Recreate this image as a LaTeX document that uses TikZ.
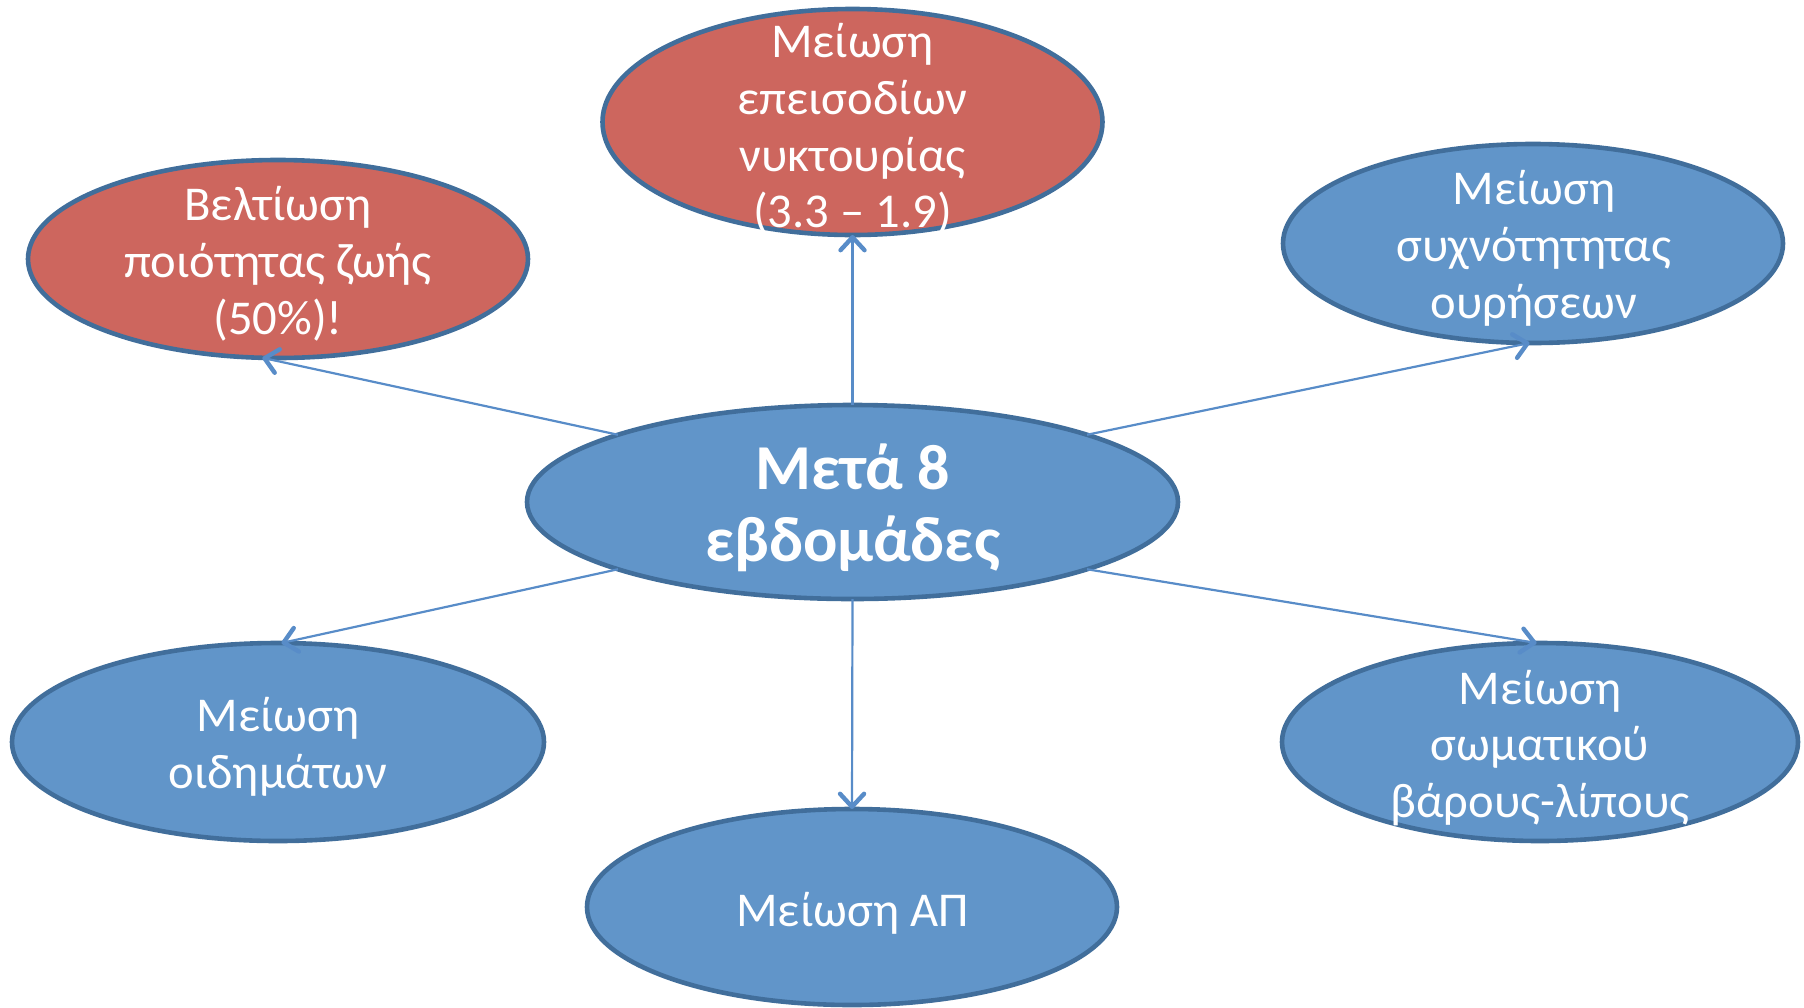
\documentclass[tikz,border=0pt]{standalone}
\usepackage{fontspec}
\setmainfont{Carlito}
\usetikzlibrary{shapes.geometric,arrows.meta}

\definecolor{bluefill}{RGB}{97,149,201}
\definecolor{redfill}{RGB}{205,102,94}
\definecolor{rim}{RGB}{65,110,155}
\definecolor{link}{RGB}{88,140,200}

\tikzset{
  blob/.style={ellipse, draw=rim, line width=2.3pt, inner sep=0pt, outer sep=0pt},
  bluebox/.style={blob, fill=bluefill},
  redbox/.style={blob, fill=redfill},
  txt/.style={text=white, align=center, inner sep=0pt,
    font=\fontsize{24.3pt}{28.4pt}\selectfont},
  hubtxt/.style={text=white, align=center, inner sep=0pt,
    font=\fontsize{32pt}{36pt}\selectfont\bfseries},
  link/.style={draw=link, line width=1.1pt,
    -{Straight Barb[length=6.5pt,width=12pt,line width=2.2pt,round]}}
}

\begin{document}
\begin{tikzpicture}[x=0.5pt,y=-0.5pt]
\useasboundingbox (0,0) rectangle (1804,1007);

% ellipses
\node[bluebox, minimum width=325.5pt, minimum height=97pt]  (hub) at (852.5,502) {};
\node[redbox,  minimum width=250pt,   minimum height=113pt] (noct) at (852.5,122) {};
\node[redbox,  minimum width=250pt,   minimum height=99pt]  (qol) at (278,259) {};
\node[bluebox, minimum width=250pt,   minimum height=99.5pt] (freq) at (1533,243.5) {};
\node[bluebox, minimum width=266pt,   minimum height=99pt]  (edema) at (278,742) {};
\node[bluebox, minimum width=265pt,   minimum height=98pt]  (bp) at (852,907) {};
\node[bluebox, minimum width=258pt,   minimum height=99pt]  (wt) at (1540,742) {};

% texts
\node[hubtxt] (hubt) at (852.5,508) {Μετά 8\\εβδομάδες};
\node[txt] (noctt) at (852.5,129) {Μείωση\\επεισοδίων\\νυκτουρίας\\(3.3 – 1.9)};
\node[txt] (qolt) at (278,264) {Βελτίωση\\ποιότητας ζωής\\(50\%)!};
\node[txt] (freqt) at (1534,248) {Μείωση\\συχνότητητας\\ουρήσεων};
\node[txt] (edemat) at (278,747) {Μείωση\\οιδημάτων};
\node[txt] (bpt) at (852.5,913) {Μείωση ΑΠ};
\node[txt] (wtt) at (1540,748) {Μείωση\\σωματικού\\βάρους-λίπους};

% connectors
\draw[link] (hub.north) -- (noct.south);
\draw[link] (hub.164) -- (qol.261);
\draw[link] (hub.16) -- (freq.268);
\draw[link] (hub.196) -- (edema.88);
\draw[link] (hub.344) -- (wt.92);
\draw[link] (hub.south) -- (bp.north);
\end{tikzpicture}
\end{document}
